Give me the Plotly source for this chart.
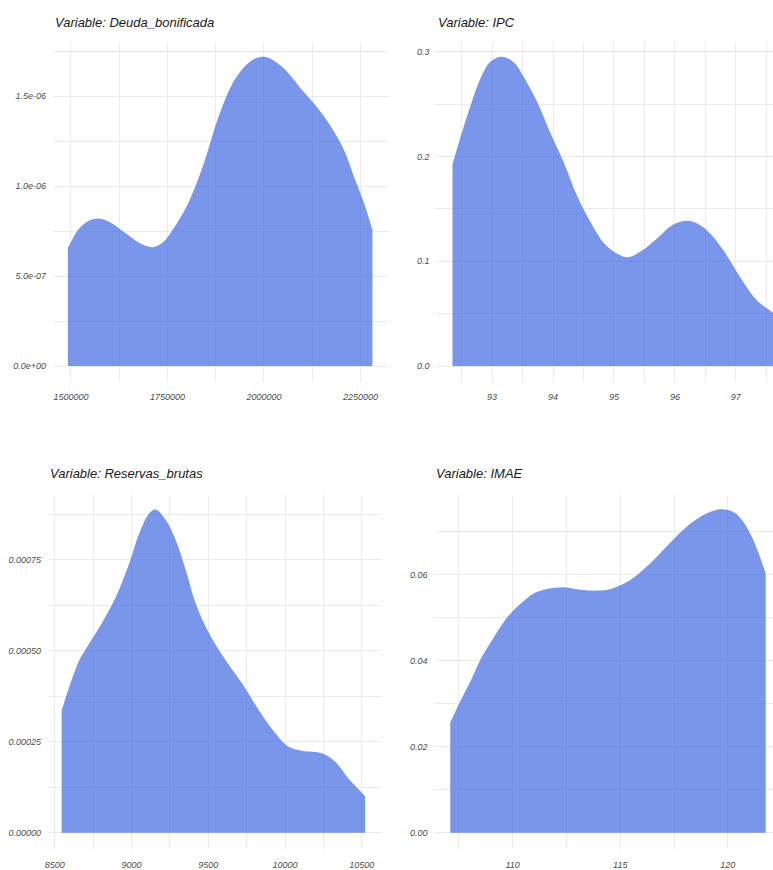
import plotly.graph_objects as go

W, H = 773, 870

# ---- data ----
deuda_x = [1492000, 1520000, 1545000, 1570000, 1600000, 1640000, 1680000, 1712000, 1740000,
           1763000, 1785000, 1807000, 1841000, 1885000, 1927000, 1970000, 2004000, 2048000,
           2100000, 2151000, 2203000, 2237000, 2260000, 2281000]
deuda_y = [0.656e-6, 0.76e-6, 0.805e-6, 0.82e-6, 0.80e-6, 0.74e-6, 0.68e-6, 0.66e-6, 0.69e-6,
           0.755e-6, 0.83e-6, 0.92e-6, 1.105e-6, 1.40e-6, 1.60e-6, 1.70e-6, 1.717e-6, 1.66e-6,
           1.53e-6, 1.40e-6, 1.22e-6, 1.03e-6, 0.90e-6, 0.755e-6]

ipc_x = [92.35, 92.50, 92.66, 92.82, 92.98, 93.16, 93.36, 93.52, 93.75, 93.96, 94.18, 94.40,
         94.62, 94.84, 95.06, 95.24, 95.48, 95.71, 95.97, 96.25, 96.52, 96.79, 97.07, 97.34,
         97.61, 97.65]
ipc_y = [0.1926, 0.222, 0.251, 0.276, 0.291, 0.2955, 0.290, 0.276, 0.251, 0.222, 0.194, 0.162,
         0.137, 0.117, 0.107, 0.104, 0.111, 0.122, 0.135, 0.1385, 0.130, 0.111, 0.085, 0.063,
         0.0506, 0.048]

res_x = [8545, 8595, 8660, 8725, 8812, 8898, 8985, 9050, 9115, 9158, 9223, 9288, 9353, 9418,
         9505, 9613, 9721, 9829, 9937, 10024, 10110, 10240, 10327, 10413, 10521]
res_y = [0.000335, 0.000401, 0.000474, 0.00052, 0.00058, 0.000648, 0.00074, 0.000822, 0.000877,
         0.000888, 0.000859, 0.000804, 0.000722, 0.00063, 0.000548, 0.000474, 0.00041, 0.000337,
         0.000273, 0.000236, 0.000225, 0.000218, 0.000195, 0.000149, 0.000101]

imae_x = [107.1, 107.6, 108.07, 108.5, 109.15, 109.77, 110.38, 111.0, 111.6, 112.4, 113.15,
          113.95, 114.56, 115.2, 115.8, 116.55, 117.3, 118.1, 118.87, 119.64, 120.26, 120.72,
          121.18, 121.76]
imae_y = [0.0256, 0.0309, 0.0355, 0.0402, 0.0456, 0.0502, 0.0533, 0.0557, 0.0567, 0.0571, 0.0565,
          0.0563, 0.0567, 0.058, 0.060, 0.0634, 0.0673, 0.0712, 0.0739, 0.0752, 0.0746, 0.0723,
          0.0681, 0.0603]

titles = ["Variable: Deuda_bonificada", "Variable: IPC", "Variable: Reservas_brutas", "Variable: IMAE"]

deuda_xticks = [1500000, 1750000, 2000000, 2250000]
deuda_yticks = [0, 5e-7, 1e-6, 1.5e-6]
deuda_ytext = ["0.0e+00", "5.0e-07", "1.0e-06", "1.5e-06"]
ipc_xticks = [93, 94, 95, 96, 97]
ipc_yticks = [0.0, 0.1, 0.2, 0.3]
ipc_ytext = ["0.0", "0.1", "0.2", "0.3"]
res_xticks = [8500, 9000, 9500, 10000, 10500]
res_yticks = [0, 0.00025, 0.0005, 0.00075]
res_ytext = ["0.00000", "0.00025", "0.00050", "0.00075"]
imae_xticks = [110, 115, 120]
imae_yticks = [0, 0.02, 0.04, 0.06]
imae_ytext = ["0.00", "0.02", "0.04", "0.06"]

# ---- styling ----
FILL = "rgba(65,105,225,0.7)"
GRID = "#EBEBEB"
TICKC = "#4D4D4D"
FONT = "Liberation Sans"

panels = [
    dict(x=deuda_x, y=deuda_y, xt=deuda_xticks, xtext=[str(v) for v in deuda_xticks],
         xminor=[1625000, 1875000, 2125000],
         yt=deuda_yticks, ytext=deuda_ytext, yminor=[2.5e-7, 7.5e-7, 1.25e-6, 1.75e-6],
         xdom=[50, 386], ydom=[42, 381.5], xr=[1453000, 2320000], yr=[-0.0861e-6, 1.8e-6],
         title_xy=(50, 22)),
    dict(x=ipc_x, y=ipc_y, xt=ipc_xticks, xtext=[str(v) for v in ipc_xticks],
         xminor=[92.5, 93.5, 94.5, 95.5, 96.5, 97.5],
         yt=ipc_yticks, ytext=ipc_ytext, yminor=[0.05, 0.15, 0.25],
         xdom=[435, 773], ydom=[42, 381.5], xr=[92.085, 97.61], yr=[-0.0148, 0.3095],
         title_xy=(435, 22)),
    dict(x=res_x, y=res_y, xt=res_xticks, xtext=[str(v) for v in res_xticks],
         xminor=[8750, 9250, 9750, 10250],
         yt=res_yticks, ytext=res_ytext, yminor=[0.000125, 0.000375, 0.000625, 0.000875],
         xdom=[45, 379], ydom=[495, 849], xr=[8455, 10622], yr=[-0.0000448, 0.000928],
         title_xy=(45, 473)),
    dict(x=imae_x, y=imae_y, xt=imae_xticks, xtext=[str(v) for v in imae_xticks],
         xminor=[107.5, 112.5, 117.5],
         yt=imae_yticks, ytext=imae_ytext, yminor=[0.01, 0.03, 0.05, 0.07],
         xdom=[433, 773], ydom=[495, 849], xr=[106.36, 122.1], yr=[-0.00379, 0.07853],
         title_xy=(433, 473)),
]

fig = go.Figure()
layout = dict(width=W, height=H, margin=dict(l=0, r=0, t=0, b=0),
              paper_bgcolor="white", plot_bgcolor="white", showlegend=False,
              annotations=[])

for i, p in enumerate(panels, start=1):
    sfx = "" if i == 1 else str(i)
    fig.add_trace(go.Scatter(x=p["x"], y=p["y"], mode="lines", fill="tozeroy",
                             fillcolor=FILL, line=dict(width=0, shape="spline", smoothing=1.0),
                             xaxis="x" + sfx, yaxis="y" + sfx, hoverinfo="skip"))
    layout["xaxis" + sfx] = dict(
        domain=[p["xdom"][0] / W, p["xdom"][1] / W], range=p["xr"], anchor="y" + sfx,
        tickvals=p["xt"], ticktext=p["xtext"], showgrid=True, gridcolor=GRID, gridwidth=1.1,
        zeroline=False, showline=False, ticks="outside", ticklen=7, tickcolor="rgba(0,0,0,0)",
        tickfont=dict(family=FONT, size=9, color=TICKC, style="italic"),
        minor=dict(tickvals=p["xminor"], showgrid=True, gridcolor=GRID, gridwidth=0.8),
        fixedrange=True)
    layout["yaxis" + sfx] = dict(
        domain=[1 - p["ydom"][1] / H, 1 - p["ydom"][0] / H], range=p["yr"], anchor="x" + sfx,
        tickvals=p["yt"], ticktext=p["ytext"], showgrid=True, gridcolor=GRID, gridwidth=1.1,
        zeroline=False, showline=False, ticks="outside", ticklen=4, tickcolor="rgba(0,0,0,0)",
        tickfont=dict(family=FONT, size=9, color=TICKC, style="italic"),
        minor=dict(tickvals=p["yminor"], showgrid=True, gridcolor=GRID, gridwidth=0.8),
        fixedrange=True)
    tx, ty = p["title_xy"]
    layout["annotations"].append(dict(
        text=titles[i - 1], xref="paper", yref="paper", x=tx / W, y=1 - ty / H,
        xanchor="left", yanchor="middle", showarrow=False,
        font=dict(family=FONT, size=13, color="#1A1A1A", style="italic")))

fig.update_layout(**layout)
fig.write_html("out.html", config={"displayModeBar": False},
               post_script="document.body.style.margin='0';document.body.style.overflow='hidden';")
